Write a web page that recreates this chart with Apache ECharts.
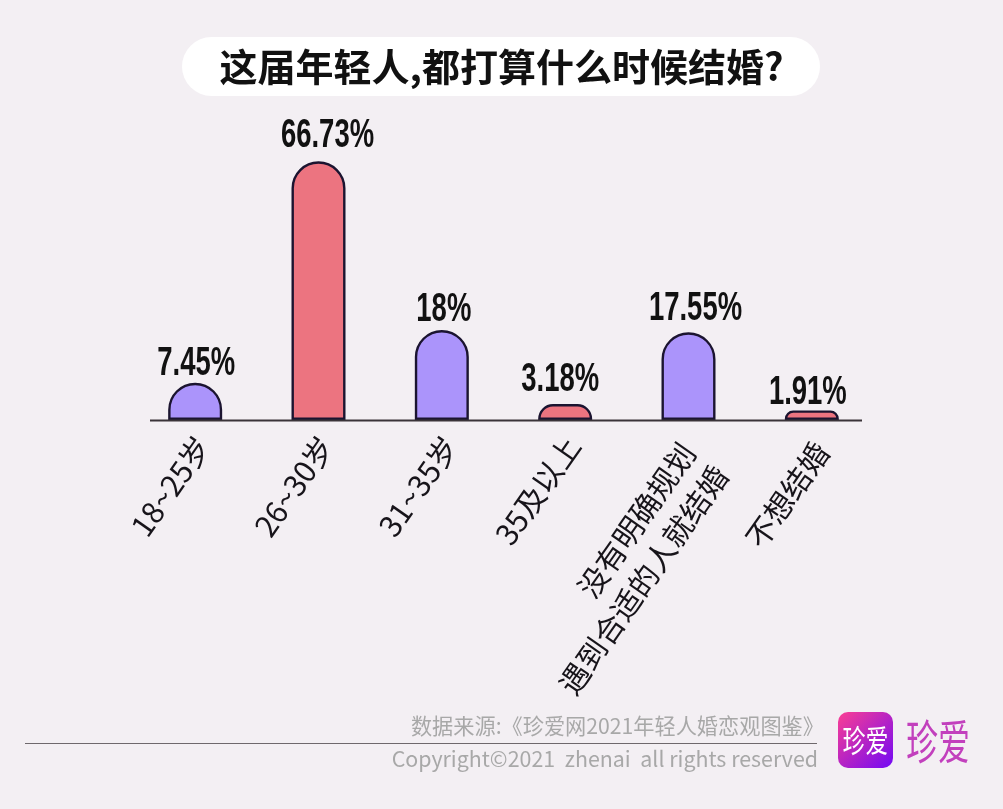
<!DOCTYPE html>
<html>
<head>
<meta charset="utf-8">
<style>
  html, body { margin: 0; padding: 0; background: #f3eff3; }
  #chart { width: 1003px; height: 809px; }
</style>
<script src="https://cdn.jsdelivr.net/npm/echarts@6/dist/echarts.min.js"></script>
</head>
<body>
<div id="chart"></div>
<script>
const categories = ["18~25岁", "26~30岁", "31~35岁", "35及以上", "没有明确规划\n遇到合适的人就结婚", "不想结婚"];
const shares = [7.45, 66.73, 18, 3.18, 17.55, 1.91];

const PURPLE = "#ab94fb";
const RED = "#ec7480";
const INK = "#1b1430";
const CJK = '"Noto Sans CJK SC", "Noto Sans", sans-serif';

// value labels were placed by hand in the original, not centred on the bars
const labelNudgeX = [1, 9, 2, -5, 7, -4];
const labelNudgeY = [2, -4, 1, -3, -2, 4];
// same for the slanted category names, measured from the foot of each bar
const nameNudgeX = [8, 8, 9, 8, 16, 10];
const nameNudgeY = [20, 20, 20, 20, 38, 26];

const chart = echarts.init(document.getElementById("chart"));

chart.setOption({
  animation: false,
  backgroundColor: "#f3eff3",
  grid: { left: 133.5, width: 740, top: 120, height: 300 },
  xAxis: {
    type: "category",
    data: categories,
    axisLine: { show: false },
    axisTick: { show: false },
    axisLabel: { show: false },
  },
  yAxis: {
    type: "value",
    min: 0,
    max: 75,
    show: false,
    // the tallest bar is cut short in the original
    breaks: [{ start: 30, end: 45, gap: 0 }],
    breakArea: { show: false },
    splitLine: { show: false },
  },
  series: [
    {
      type: "bar",
      barWidth: 54,
      data: shares.map((v, i) => ({
        value: v,
        itemStyle: { color: i % 2 ? RED : PURPLE },
      })),
      itemStyle: {
        borderColor: INK,
        borderWidth: 2.4,
        borderRadius: [27, 27, 0, 0],
      },
    },
    {
      // condensed value labels, no narrow font is installed so squeeze the text
      type: "custom",
      clip: false,
      data: shares.map((v, i) => [i, v]),
      renderItem: (params, api) => {
        const i = params.dataIndex;
        const pt = api.coord([api.value(0), api.value(1)]);
        return {
          type: "text",
          x: pt[0] + labelNudgeX[i],
          y: pt[1] - 1 + labelNudgeY[i],
          scaleX: 0.67,
          style: {
            text: api.value(1) + "%",
            align: "center",
            verticalAlign: "bottom",
            font: 'bold 41px "Liberation Sans", sans-serif',
            fill: "#111",
          },
        };
      },
    },
    {
      // slanted category names
      type: "custom",
      clip: false,
      data: categories.map((c, i) => [i, 0]),
      renderItem: (params, api) => {
        const i = params.dataIndex;
        const pt = api.coord([api.value(0), 0]);
        return {
          type: "text",
          x: pt[0] + nameNudgeX[i],
          y: pt[1] + nameNudgeY[i],
          rotation: (55 * Math.PI) / 180,
          style: {
            text: categories[i],
            align: "right",
            verticalAlign: "middle",
            font: "30px " + CJK,
            lineHeight: 40,
            fill: "#17141a",
          },
        };
      },
    },
  ],
  graphic: [
    { type: "line", z: 10, shape: { x1: 150, y1: 420.5, x2: 862, y2: 420.5 }, style: { stroke: "#3a3338", lineWidth: 2 } },
    { type: "rect", shape: { x: 182, y: 37, width: 638, height: 59, r: 29.5 }, style: { fill: "#fff" } },
    {
      type: "text", x: 501.5, y: 67,
      style: { text: "这届年轻人,都打算什么时候结婚?", align: "center", verticalAlign: "middle", font: "bold 38px " + CJK, fill: "#111" },
    },
    {
      type: "text", x: 824, y: 726,
      style: { text: "数据来源:《珍爱网2021年轻人婚恋观图鉴》", align: "right", verticalAlign: "middle", font: "21.2px " + CJK, fill: "#a8a8a8" },
    },
    { type: "line", shape: { x1: 25, y1: 743.5, x2: 817, y2: 743.5 }, style: { stroke: "#6e686c", lineWidth: 1 } },
    {
      type: "text", x: 818, y: 759,
      style: { text: "Copyright©2021  zhenai  all rights reserved", align: "right", verticalAlign: "middle", font: "21.4px " + CJK, fill: "#a8a8a8" },
    },
    {
      type: "rect",
      shape: { x: 838, y: 712, width: 55, height: 56, r: 10 },
      style: {
        fill: new echarts.graphic.LinearGradient(0, 0, 1, 1, [
          { offset: 0, color: "#fb3f93" },
          { offset: 1, color: "#7208f5" },
        ]),
      },
    },
    {
      type: "text", x: 865.5, y: 740, scaleY: 1.35,
      style: { text: "珍爱", align: "center", verticalAlign: "middle", font: "23px " + CJK, fill: "#fff" },
    },
    {
      type: "text", x: 938, y: 741, scaleY: 1.45,
      style: { text: "珍爱", align: "center", verticalAlign: "middle", font: "32px " + CJK, fill: "#c240bd" },
    },
  ],
});
</script>
</body>
</html>
